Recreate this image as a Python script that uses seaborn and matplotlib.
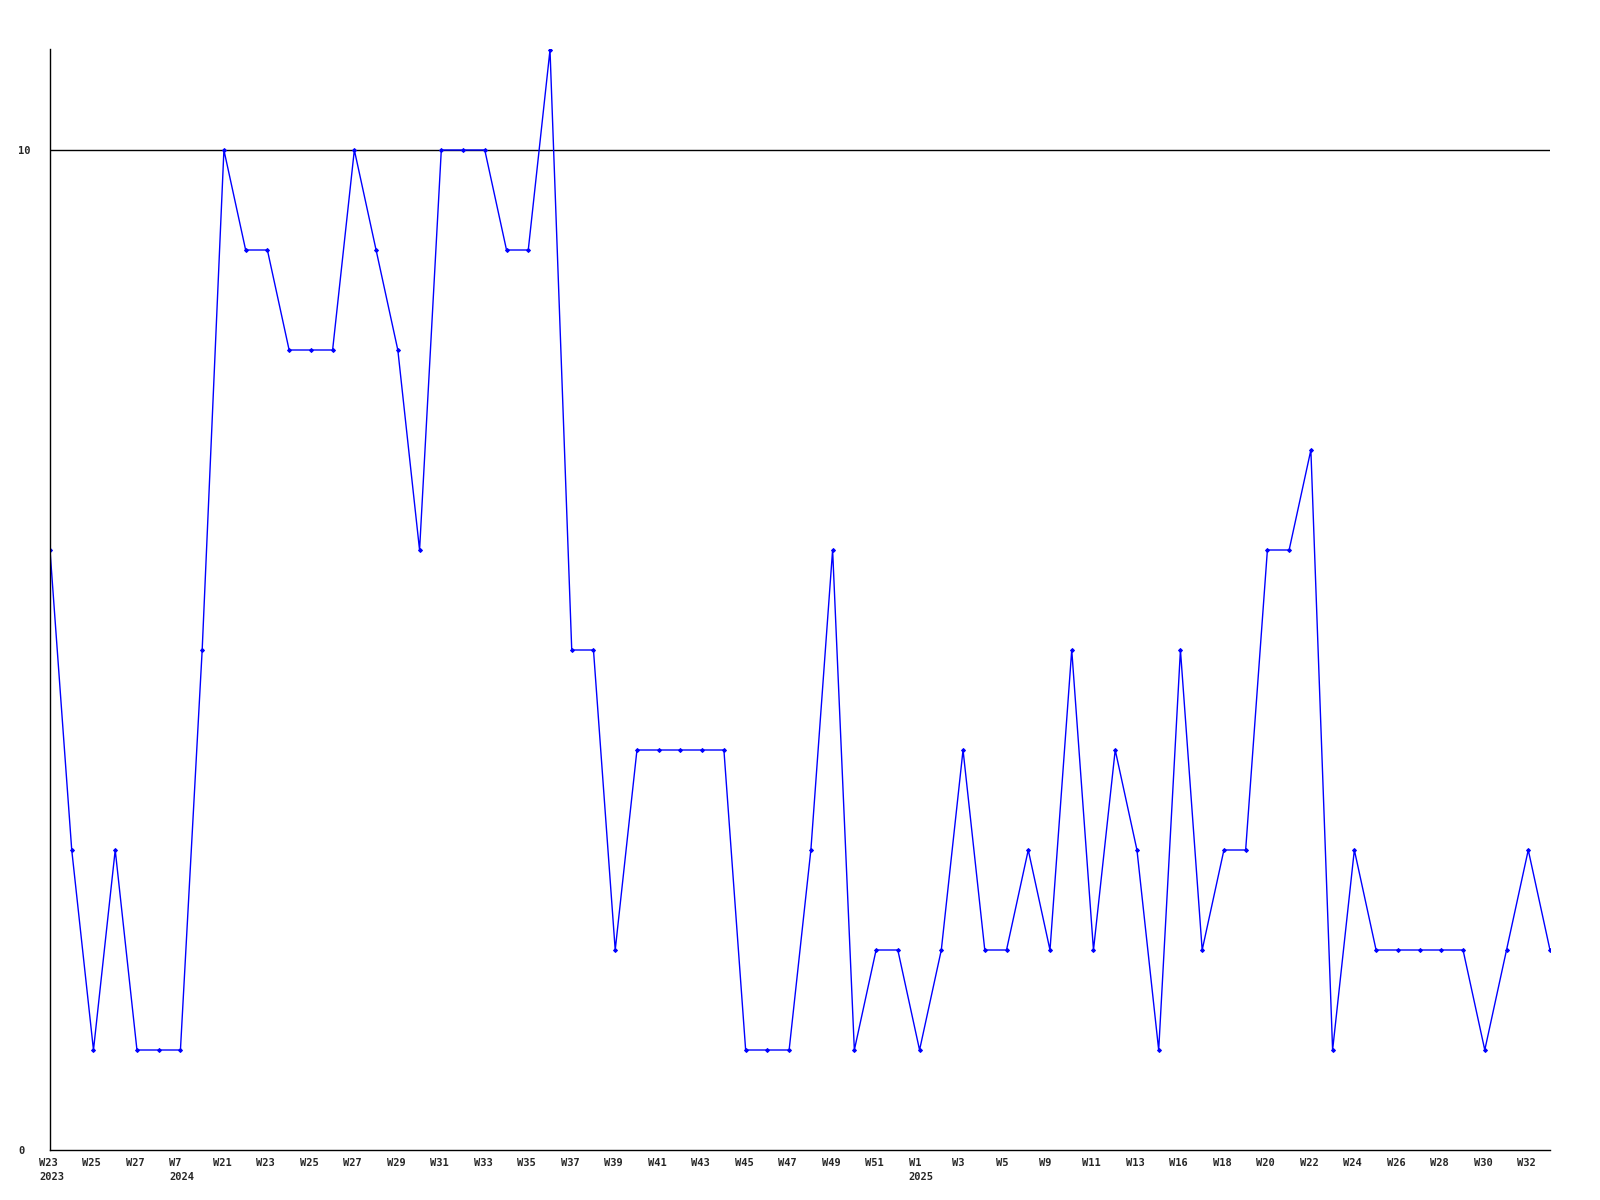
import matplotlib
matplotlib.use("Agg")
import matplotlib.pyplot as plt
import matplotlib.transforms as mtransforms
import seaborn as sns
import pandas as pd

# one point per reported week (weeks are not contiguous in the source)
weeks = ["W23", "W24", "W25", "W26", "W27", "W28", "W7", "W8",
         "W21", "W22", "W23", "W24", "W25", "W26", "W27", "W28",
         "W29", "W30", "W31", "W32", "W33", "W34", "W35", "W36",
         "W37", "W38", "W39", "W40", "W41", "W42", "W43", "W44",
         "W45", "W46", "W47", "W48", "W49", "W50", "W51", "W52",
         "W1", "W2", "W3", "W4", "W5", "W8", "W9", "W10",
         "W11", "W12", "W13", "W14", "W16", "W17", "W18", "W19",
         "W20", "W21", "W22", "W23", "W24", "W25", "W26", "W27",
         "W28", "W29", "W30", "W31", "W32", "W33"]
years = {0: "2023", 6: "2024", 40: "2025"}
values = [6, 3, 1, 3, 1, 1, 1, 5, 10, 9,
          9, 8, 8, 8, 10, 9, 8, 6, 10, 10,
          10, 9, 9, 11, 5, 5, 2, 4, 4, 4,
          4, 4, 1, 1, 1, 3, 6, 1, 2, 2,
          1, 2, 4, 2, 2, 3, 2, 5, 2, 4,
          3, 1, 5, 2, 3, 3, 6, 6, 7, 1,
          3, 2, 2, 2, 2, 2, 1, 2, 3, 2]

df = pd.DataFrame({"idx": range(len(values)), "value": values})

sns.set_style("white")
plt.rcParams["font.family"] = ["DejaVu Sans Mono"]

fig = plt.figure(figsize=(16, 12), dpi=100)
ax = fig.add_axes([50 / 1600, 1 - 1150 / 1200, 1500 / 1600, 1101 / 1200])

sns.lineplot(data=df, x="idx", y="value", ax=ax, color="#0000ff",
             linewidth=1, marker="D", markersize=2,
             markeredgecolor="#0000ff", markerfacecolor="#0000ff")

ax.axhline(10, color="black", linewidth=1, zorder=0)

ax.set_xlim(0, len(values) - 1)
ax.set_ylim(0, 11.01)

tick_pos = list(range(0, len(values), 2))
tick_lab = [weeks[i] + ("\n" + years[i] if i in years else "") for i in tick_pos]
ax.set_xticks(tick_pos)
ax.set_xticklabels(tick_lab, fontsize=7.5, fontweight="bold", linespacing=1.5)
ax.set_yticks([0, 10])
ax.set_yticklabels(["0", "10"], fontsize=7.5, fontweight="bold")
ax.tick_params(axis="both", length=0)
ax.tick_params(axis="x", pad=6)
ax.tick_params(axis="y", pad=23)

shift = mtransforms.ScaledTranslation(-11 / 100, 0, fig.dpi_scale_trans)
for lab in ax.get_xticklabels():
    lab.set_horizontalalignment("left")
    lab.set_verticalalignment("top")
    lab.set_transform(lab.get_transform() + shift)
for lab in ax.get_yticklabels():
    lab.set_horizontalalignment("left")
ax.set_xlabel("")
ax.set_ylabel("")

for side in ["top", "right"]:
    ax.spines[side].set_visible(False)
for side in ["left", "bottom"]:
    ax.spines[side].set_color("black")
    ax.spines[side].set_linewidth(1)

fig.savefig("out.png", dpi=100)
